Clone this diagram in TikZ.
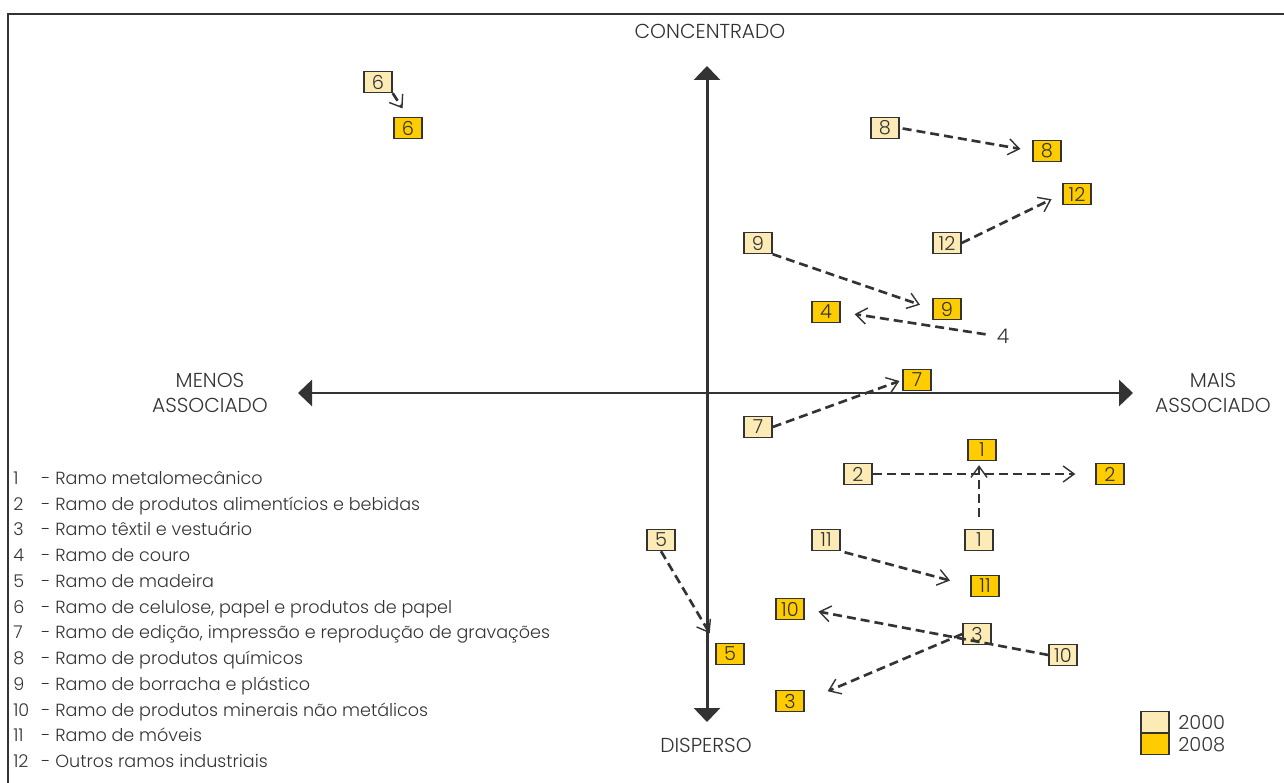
\documentclass[tikz,border=0pt]{standalone}
\usepackage{fontspec}
\setmainfont{Poppins}[UprightFont=* Light]
\usepackage{tikz}
\usetikzlibrary{arrows.meta}
\definecolor{ink}{HTML}{333333}
\definecolor{pale}{HTML}{FCEBB5}
\definecolor{gold}{HTML}{FFCC00}
\tikzstyle{oldbox} = [rectangle, draw=ink, line width=0.8pt, fill=pale, minimum width=0.56cm, minimum height=0.42cm, inner sep=0pt, text=ink, font=\fontsize{11}{13}\selectfont]
\tikzstyle{newbox} = [oldbox, fill=gold]
\tikzstyle{axis} = [line width=1.7pt, draw=ink, {Triangle[length=0.28cm,width=0.52cm]}-{Triangle[length=0.28cm,width=0.52cm]}]
\tikzstyle{movearrow} = [line width=1.5pt, draw=ink, dash pattern=on 0.18cm off 0.1cm, -{Straight Barb[length=0.22cm,width=0.32cm,line width=0.8pt]}]
\tikzstyle{axislabel} = [text=ink, align=center, inner sep=0pt, font=\fontsize{11.5}{14.7}\selectfont]
\tikzstyle{legendline} = [text=ink, anchor=base west, inner sep=0pt]
\newcommand{\num}[1]{\makebox[1.6em][l]{#1}}

\begin{document}
\begin{tikzpicture}[x=0.02cm, y=-0.02cm, font=\fontsize{10}{14.7}\selectfont]
    \useasboundingbox (0,0) rectangle (1284,783);
    \draw[ink, line width=1.1pt] (8,783) |- (1284,14);

    % axes
    \coordinate (top) at (707,66);
    \coordinate (bottom) at (707,722);
    \coordinate (left) at (298,393);
    \coordinate (right) at (1133,393);
    \draw[axis] (bottom) -- (top);
    \draw[axis] (left) -- (right);

    \node (concentrado) [axislabel] at (710,31) {CONCENTRADO};
    \node (disperso) [axislabel] at (706,745) {DISPERSO};
    \node (menos) [axislabel] at (210,393) {MENOS\\ASSOCIADO};
    \node (mais) [axislabel] at (1213,393) {MAIS\\ASSOCIADO};

    % 2000
    \node (metal00) [oldbox] at (979,540) {1};
    \node (alim00) [oldbox] at (858,474) {2};
    \node (textil00) [oldbox] at (977,634) {3};
    \node (couro00) [axislabel] at (1003,336) {4};
    \node (madeira00) [oldbox] at (661,540) {5};
    \node (papel00) [oldbox] at (378,82) {6};
    \node (edicao00) [oldbox] at (758,427) {7};
    \node (quimicos00) [oldbox] at (885,128) {8};
    \node (borracha00) [oldbox] at (758,243) {9};
    \node (minerais00) [oldbox] at (1063,655) {10};
    \node (moveis00) [oldbox] at (826,540) {11};
    \node (outros00) [oldbox] at (947,243) {12};

    % 2008
    \node (metal08) [newbox] at (982,450) {1};
    \node (alim08) [newbox] at (1110,474) {2};
    \node (textil08) [newbox] at (790,701) {3};
    \node (couro08) [newbox] at (826,312) {4};
    \node (madeira08) [newbox] at (730,654) {5};
    \node (papel08) [newbox] at (408,128) {6};
    \node (edicao08) [newbox] at (917,380) {7};
    \node (quimicos08) [newbox] at (1047,151) {8};
    \node (borracha08) [newbox] at (947,309) {9};
    \node (minerais08) [newbox] at (790,609) {10};
    \node (moveis08) [newbox] at (985,586) {11};
    \node (outros08) [newbox] at (1077,194) {12};

    \draw[movearrow, shorten <=0.24cm, shorten >=0.08cm] (metal00.north) -- (metal00.north |- metal08.south);
    \draw[movearrow, shorten >=0.4cm] (alim00.east) -- (alim08.west);
    \draw[movearrow, shorten >=0.5cm] (textil00.west) -- (textil08.east);
    \draw[movearrow, shorten <=0.22cm, shorten >=0.28cm] (couro00.west) -- (couro08.east);
    \draw[movearrow, shorten >=0.22cm] (madeira00.south) -- (madeira08.north west);
    \draw[movearrow, shorten >=0.2cm] (papel00.south east) -- (papel08.north);
    \draw[movearrow, shorten >=0.06cm] (edicao00.east) -- (edicao08.west);
    \draw[movearrow, shorten <=0.06cm, shorten >=0.24cm] (quimicos00.east) -- (quimicos08.west);
    \draw[movearrow, shorten >=0.26cm] (borracha00.south east) -- (borracha08.west);
    \draw[movearrow, shorten >=0.28cm] (minerais00.west) -- (minerais08.east);
    \draw[movearrow, shorten <=0.08cm, shorten >=0.42cm] (moveis00.south east) -- (moveis08.west);
    \draw[movearrow, shorten >=0.24cm] (outros00.east) -- (outros08.west);

    % key
    \node (key00) [oldbox, anchor=south] at (1155,733) {};
    \node (key08) [newbox, anchor=north] at (1155,733) {};
    \node (year00) [legendline, anchor=west, font=\fontsize{11}{13}\selectfont] at (1178,722) {2000};
    \node (year08) [legendline, anchor=west, font=\fontsize{11}{13}\selectfont] at (1178,745) {2008};

    \node (leg1) [legendline] at (13,484) {\num{1}- Ramo metalomecânico};
    \node (leg2) [legendline] at (13,510) {\num{2}- Ramo de produtos alimentícios e bebidas};
    \node (leg3) [legendline] at (13,535) {\num{3}- Ramo têxtil e vestuário};
    \node (leg4) [legendline] at (13,561) {\num{4}- Ramo de couro};
    \node (leg5) [legendline] at (13,587) {\num{5}- Ramo de madeira};
    \node (leg6) [legendline] at (13,613) {\num{6}- Ramo de celulose, papel e produtos de papel};
    \node (leg7) [legendline] at (13,638) {\num{7}- Ramo de edição, impressão e reprodução de gravações};
    \node (leg8) [legendline] at (13,664) {\num{8}- Ramo de produtos químicos};
    \node (leg9) [legendline] at (13,690) {\num{9}- Ramo de borracha e plástico};
    \node (leg10) [legendline] at (13,716) {\num{10}- Ramo de produtos minerais não metálicos};
    \node (leg11) [legendline] at (13,741) {\num{11}- Ramo de móveis};
    \node (leg12) [legendline] at (13,767) {\num{12}- Outros ramos industriais};
\end{tikzpicture}
\end{document}
